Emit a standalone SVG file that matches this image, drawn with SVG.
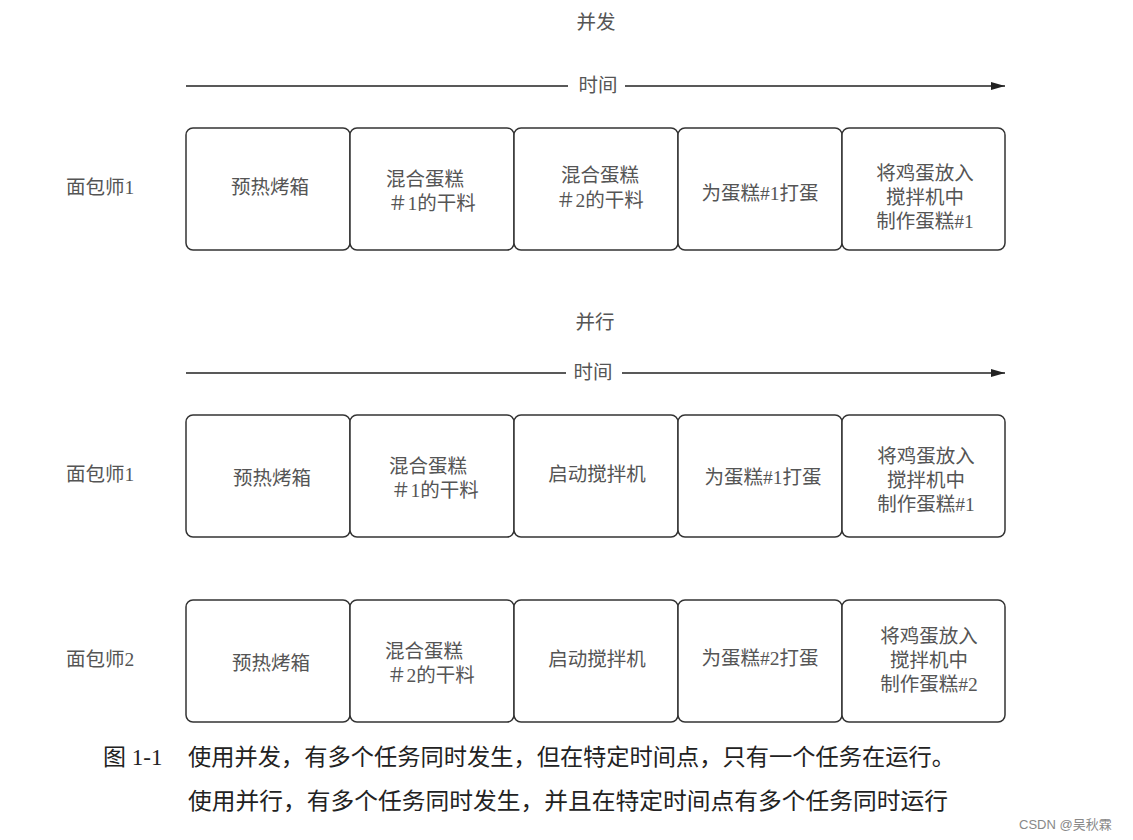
<svg xmlns="http://www.w3.org/2000/svg" width="1133" height="840" viewBox="0 0 1133 840">
<defs>
<marker id="ah" markerWidth="14" markerHeight="8" refX="14" refY="4" orient="auto" markerUnits="userSpaceOnUse"><path d="M0,0 L14,4 L0,8 Z" fill="#222"/></marker>
<style>
.box{fill:#fff;stroke:#333;stroke-width:1.5}
.t{font-family:"Liberation Serif","Noto Sans CJK SC",serif;font-size:19.5px;fill:#555;text-anchor:middle}
.lbl{font-family:"Liberation Serif","Noto Sans CJK SC",serif;font-size:19.5px;fill:#555}
.ax{stroke:#222;stroke-width:1.5;fill:none}
.cap{font-family:"Liberation Serif","Noto Sans CJK SC",serif;font-size:23px;fill:#222}
.wm{font-family:"Liberation Sans","Noto Sans CJK SC",sans-serif;font-size:13px;fill:#888}
</style>
</defs>
<rect width="1133" height="840" fill="#fff"/>
<text class="t" x="596" y="29">并发</text>
<text class="t" x="595" y="329">并行</text>
<g id="connectors">
<line class="ax" x1="186" y1="86" x2="568" y2="86"/>
<line class="ax" x1="625" y1="86" x2="1005" y2="86" marker-end="url(#ah)"/>
<line class="ax" x1="186" y1="373" x2="566" y2="373"/>
<line class="ax" x1="622" y1="373" x2="1005" y2="373" marker-end="url(#ah)"/>
</g>
<text class="t" x="598" y="92">时间</text>
<text class="t" x="593" y="379">时间</text>
<text class="lbl" x="66" y="194">面包师1</text>
<text class="lbl" x="66" y="481">面包师1</text>
<text class="lbl" x="66" y="666">面包师2</text>
<g id="r1">
<g id="r1n1"><rect class="box" x="186" y="128" width="164" height="122" rx="7"/><text class="t" x="270" y="194">预热烤箱</text></g>
<g id="r1n2"><rect class="box" x="350" y="128" width="164" height="122" rx="7"/><text class="t" x="425" y="186">混合蛋糕</text><text class="t" x="432" y="210">＃1的干料</text></g>
<g id="r1n3"><rect class="box" x="514" y="128" width="164" height="122" rx="7"/><text class="t" x="600" y="182">混合蛋糕</text><text class="t" x="600" y="207">＃2的干料</text></g>
<g id="r1n4"><rect class="box" x="678" y="128" width="164" height="122" rx="7"/><text class="t" x="760" y="200">为蛋糕#1打蛋</text></g>
<g id="r1n5"><rect class="box" x="842" y="128" width="163" height="122" rx="7"/><text class="t" x="925" y="180">将鸡蛋放入</text><text class="t" x="925" y="204">搅拌机中</text><text class="t" x="925" y="228">制作蛋糕#1</text></g>
</g>
<g id="r2">
<g id="r2n1"><rect class="box" x="186" y="415" width="164" height="122" rx="7"/><text class="t" x="272" y="485">预热烤箱</text></g>
<g id="r2n2"><rect class="box" x="350" y="415" width="164" height="122" rx="7"/><text class="t" x="428" y="473">混合蛋糕</text><text class="t" x="435" y="497">＃1的干料</text></g>
<g id="r2n3"><rect class="box" x="514" y="415" width="164" height="122" rx="7"/><text class="t" x="597" y="481">启动搅拌机</text></g>
<g id="r2n4"><rect class="box" x="678" y="415" width="164" height="122" rx="7"/><text class="t" x="763" y="484">为蛋糕#1打蛋</text></g>
<g id="r2n5"><rect class="box" x="842" y="415" width="163" height="122" rx="7"/><text class="t" x="926" y="463">将鸡蛋放入</text><text class="t" x="926" y="487">搅拌机中</text><text class="t" x="926" y="511">制作蛋糕#1</text></g>
</g>
<g id="r3">
<g id="r3n1"><rect class="box" x="186" y="600" width="164" height="122" rx="7"/><text class="t" x="271" y="670">预热烤箱</text></g>
<g id="r3n2"><rect class="box" x="350" y="600" width="164" height="122" rx="7"/><text class="t" x="424" y="658">混合蛋糕</text><text class="t" x="431" y="682">＃2的干料</text></g>
<g id="r3n3"><rect class="box" x="514" y="600" width="164" height="122" rx="7"/><text class="t" x="597" y="666">启动搅拌机</text></g>
<g id="r3n4"><rect class="box" x="678" y="600" width="164" height="122" rx="7"/><text class="t" x="760" y="665">为蛋糕#2打蛋</text></g>
<g id="r3n5"><rect class="box" x="842" y="600" width="163" height="122" rx="7"/><text class="t" x="929" y="643">将鸡蛋放入</text><text class="t" x="929" y="667">搅拌机中</text><text class="t" x="929" y="691">制作蛋糕#2</text></g>
</g>
<text class="cap" x="103" y="765">图 1-1</text>
<text class="cap" x="188" y="765" textLength="767" lengthAdjust="spacingAndGlyphs">使用并发，有多个任务同时发生，但在特定时间点，只有一个任务在运行。</text>
<text class="cap" x="188" y="809" textLength="760" lengthAdjust="spacingAndGlyphs">使用并行，有多个任务同时发生，并且在特定时间点有多个任务同时运行</text>
<text class="wm" x="1019" y="829">CSDN @吴秋霖</text>
</svg>
